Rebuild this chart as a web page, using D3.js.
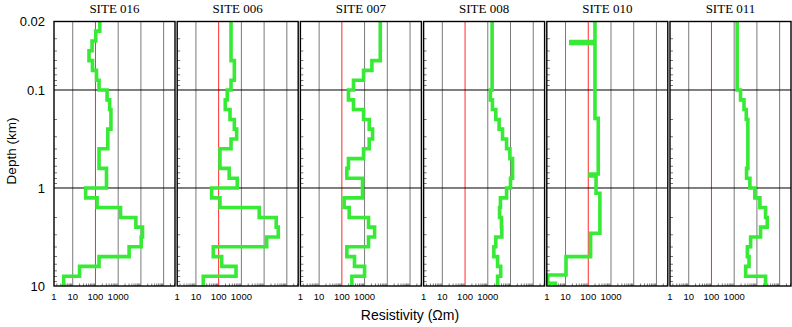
<!DOCTYPE html>
<html>
<head>
<meta charset="utf-8">
<script src="https://cdn.jsdelivr.net/npm/d3@7"></script>
<style>
  html, body { margin: 0; padding: 0; background: #fff; }
  svg { display: block; }
</style>
</head>
<body>
<svg id="chart" width="792" height="327"></svg>
<script>
// ---------------- data ----------------
const siteNames = ["SITE 016", "SITE 006", "SITE 007", "SITE 008", "SITE 010", "SITE 011"];

// common layer boundaries (km) for the smooth models
const layerDepths = [0.02, 0.0251, 0.0316, 0.0398, 0.0501, 0.0631, 0.0794, 0.1, 0.126, 0.158,
  0.2, 0.251, 0.316, 0.398, 0.501, 0.631, 0.794, 1, 1.26, 1.58, 2, 2.51, 3.16, 3.98,
  5.01, 6.31, 7.94, 10];

const rho016 = [155, 103, 71, 52, 74, 111, 144, 325, 420, 480, 480, 350, 350, 144, 144, 306, 306,
  37, 118, 1270, 6000, 11800, 10300, 3030, 144, 20, 4];
const rho006 = [350, 350, 350, 350, 490, 490, 350, 240, 195, 315, 490, 620, 350, 114, 114, 290, 660,
  49, 114, 6100, 34000, 42000, 13000, 58, 136, 580, 21];
const rho007 = [4900, 4900, 4900, 4900, 2100, 900, 325, 195, 325, 900, 1600, 2250, 1600, 900, 195, 166, 810,
  810, 126, 210, 1490, 2760, 1490, 166, 360, 1000, 276];
const rho008 = [1550, 1550, 1550, 1550, 1550, 1550, 1550, 1300, 1600, 2250, 3150, 4450, 6700, 9400, 12300, 12300, 10000,
  6700, 3600, 3300, 4000, 4150, 2250, 1850, 2700, 3700, 2700];
// site 010 uses its own (layered) model boundaries
const depths010 = [0.02, 0.032, 0.0335, 0.195, 0.72, 0.755, 1.13, 2.9, 5.02, 7.72, 9.37, 10];
const rho010 = [198, 17, 198, 275, 120, 220, 325, 127, 10.5, 1.65, 3.6];
const rho011 = [1350, 1350, 1350, 1350, 1350, 1350, 1350, 1900, 2700, 3400, 4000, 4000, 4000, 4000, 4000, 3500, 4900,
  8100, 13500, 24000, 28500, 14500, 5300, 3800, 4500, 3200, 24000];

const siteDepths = [layerDepths, layerDepths, layerDepths, layerDepths, depths010, layerDepths];
const siteRho = [rho016, rho006, rho007, rho008, rho010, rho011];

const xTickValues = [1, 10, 100, 1000];
const xTickLabels = ["1", "10", "100", "1000"];
const xGridValues = [10, 1000, 10000, 100000];
const xRefValue = 100;
const yTickValues = [0.02, 0.1, 1, 10];
const yTickLabels = ["0.02", "0.1", "1", "10"];
const yGridValues = [0.1, 1];
const xDomain = [1.5, 316000];
const yDomain = [0.02, 10];

// ---------------- layout ----------------
const svg = d3.select("#chart");
const panelLeft0 = 54, panelStep = 123.2, panelW = 121;
const plotTop = 21.5, plotBottom = 286;

const y = d3.scaleLog().domain(yDomain).range([plotTop, plotBottom]);
const x = d3.scaleLog().domain(xDomain).range([0, panelW]).clamp(true);

// minor tick values
const yMinor = [];
[0.01, 0.1, 1].forEach(b => { for (let k = 2; k <= 9; k++) { const v = b * k; if (v > 0.02 && v < 10) yMinor.push(v); } });
const xMinor = [];
[1, 10, 100, 1000, 10000, 100000].forEach(b => { for (let k = 2; k <= 9; k++) { const v = b * k; if (v > xDomain[0] && v < xDomain[1]) xMinor.push(v); } });

const line = d3.line().x(d => x(d[0])).y(d => y(d[1])).curve(d3.curveLinear);

siteNames.forEach((name, i) => {
  const g = svg.append("g").attr("transform", `translate(${panelLeft0 + i * panelStep},0)`);

  // vertical grid
  g.selectAll("line.vg").data(xGridValues).enter().append("line")
    .attr("x1", d => x(d)).attr("x2", d => x(d))
    .attr("y1", plotTop).attr("y2", plotBottom)
    .attr("stroke", "#7a7a7a").attr("stroke-width", 1);
  // reference 100 line
  g.append("line")
    .attr("x1", x(xRefValue)).attr("x2", x(xRefValue))
    .attr("y1", plotTop).attr("y2", plotBottom)
    .attr("stroke", "#ff2a2a").attr("stroke-width", 1);
  // horizontal grid
  g.selectAll("line.hg").data(yGridValues).enter().append("line")
    .attr("x1", 0).attr("x2", panelW)
    .attr("y1", d => y(d)).attr("y2", d => y(d))
    .attr("stroke", "#000").attr("stroke-width", 1);

  // minor ticks left
  g.selectAll("line.ym").data(yMinor).enter().append("line")
    .attr("x1", 0).attr("x2", 3)
    .attr("y1", d => y(d)).attr("y2", d => y(d))
    .attr("stroke", "#555").attr("stroke-width", 0.8);
  // minor ticks bottom
  g.selectAll("line.xm").data(xMinor).enter().append("line")
    .attr("x1", d => x(d)).attr("x2", d => x(d))
    .attr("y1", plotBottom).attr("y2", plotBottom - 2.5)
    .attr("stroke", "#555").attr("stroke-width", 0.8);

  // profile
  const dep = siteDepths[i], rho = siteRho[i];
  const pts = [];
  rho.forEach((r, k) => { pts.push([r, dep[k]]); pts.push([r, dep[k + 1]]); });
  g.append("path").attr("d", line(pts))
    .attr("fill", "none").attr("stroke", "#36ea36").attr("stroke-width", 3.6)
    .attr("stroke-linejoin", "miter").attr("stroke-linecap", "butt");

  // frame
  g.append("rect").attr("x", 0).attr("y", plotTop).attr("width", panelW).attr("height", plotBottom - plotTop)
    .attr("fill", "none").attr("stroke", "#000").attr("stroke-width", 1.4);

  // title
  g.append("text").attr("x", panelW / 2).attr("y", 13)
    .attr("text-anchor", "middle")
    .attr("font-family", "'Liberation Serif', 'Times New Roman', serif")
    .attr("font-size", 13).attr("fill", "#000").text(name);

  // x tick labels
  g.selectAll("text.xt").data(xTickValues).enter().append("text")
    .attr("x", d => x(d)).attr("y", 299.5)
    .attr("text-anchor", "middle")
    .attr("font-family", "'Liberation Sans', Arial, sans-serif")
    .attr("font-size", 9.5).attr("fill", "#000")
    .text((d, k) => xTickLabels[k]);
});

// y tick labels
svg.selectAll("text.yt").data(yTickValues).enter().append("text")
  .attr("x", 45).attr("y", d => y(d)).attr("dy", "0.36em")
  .attr("text-anchor", "end")
  .attr("font-family", "'Liberation Sans', Arial, sans-serif")
  .attr("font-size", 13).attr("fill", "#000")
  .text((d, k) => yTickLabels[k]);

// axis titles
svg.append("text").attr("transform", "translate(16,151) rotate(-90)")
  .attr("text-anchor", "middle")
  .attr("font-family", "'Liberation Sans', Arial, sans-serif")
  .attr("font-size", 13.5).attr("fill", "#000").text("Depth (km)");

svg.append("text").attr("x", 410).attr("y", 320)
  .attr("text-anchor", "middle")
  .attr("font-family", "'Liberation Sans', Arial, sans-serif")
  .attr("font-size", 14).attr("fill", "#000").text("Resistivity (Ωm)");
</script>
</body>
</html>
